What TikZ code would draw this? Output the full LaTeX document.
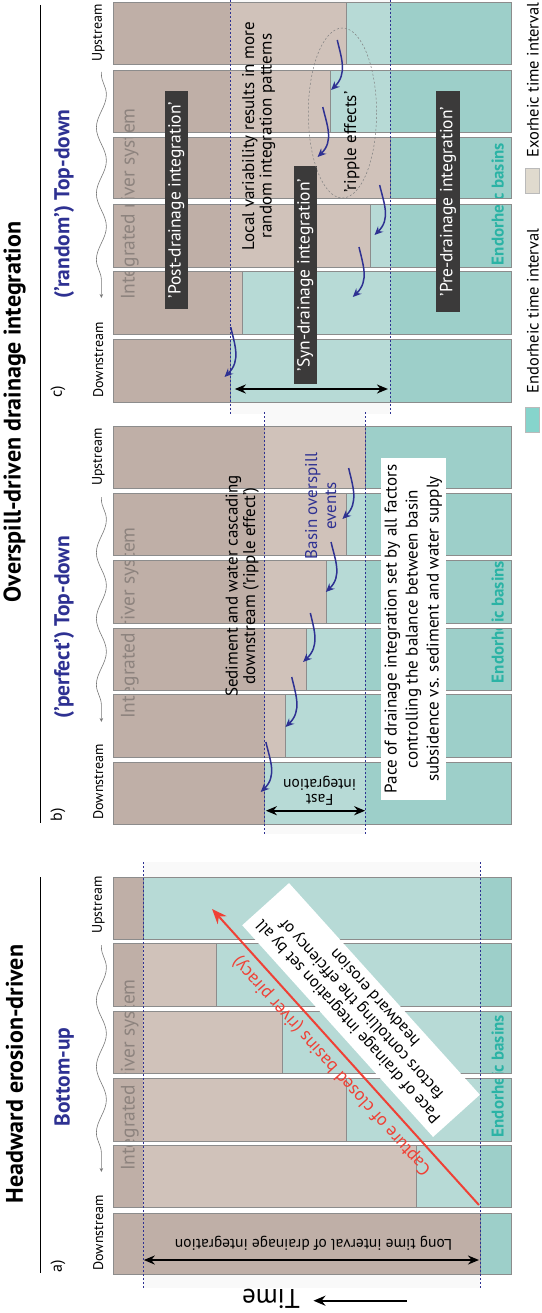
\documentclass[tikz,border=0pt]{standalone}
\usepackage{fontspec}
\setmainfont{PT Sans}
\usetikzlibrary{arrows.meta,decorations.pathmorphing,calc}

\definecolor{dbrown}{HTML}{BFAFA7}
\definecolor{lbrown}{HTML}{D0C2BA}
\definecolor{lteal}{HTML}{B7DAD6}
\definecolor{dteal}{HTML}{9DCFC9}
\definecolor{edgegray}{HTML}{8C8C8C}
\definecolor{navy}{HTML}{2E3192}
\definecolor{tealtxt}{HTML}{2BB3A5}
\definecolor{redarrow}{HTML}{EF4136}
\definecolor{boxdark}{HTML}{3B3A3A}
\definecolor{legexo}{HTML}{E0DACE}
\definecolor{legendo}{HTML}{86D4CC}
\definecolor{rivertxt}{HTML}{8D837E}

\newcommand{\fsz}[2]{\fontsize{#1}{#2}\selectfont}

% one time strip: y0, y1, end of integrated part, end of exorheic part, end of endorheic interval
\newcommand{\drawstrip}[5]{%
  \fill[dbrown] (110,#1) rectangle (#3,#2);
  \fill[lbrown] (#3,#1) rectangle (#4,#2);
  \fill[lteal]  (#4,#1) rectangle (#5,#2);
  \fill[dteal]  (#5,#1) rectangle (494,#2);
  \draw[edgegray, line width=0.6] (#4,#1) -- (#4,#2);
}

\tikzset{
  title/.style={rotate=90, font=\fsz{24}{26}\bfseries},
  subtitle/.style={rotate=90, font=\fsz{21.5}{24}\bfseries, text=navy},
  panellabel/.style={rotate=90, font=\fsz{16}{18}},
  streamlabel/.style={rotate=90, font=\fsz{14}{16}},
  rivertext/.style={rotate=90, font=\fsz{19.5}{22}, text=rivertxt},
  basintext/.style={rotate=90, font=\fsz{17}{19}\bfseries, text=tealtxt},
  legendtext/.style={rotate=90, font=\fsz{16.5}{18}},
  body/.style={rotate=90, font=\fsz{17}{17.5}, align=center, inner sep=1pt},
  darkbox/.style={rotate=90, font=\fsz{17.5}{19}, text=white, fill=boxdark, inner sep=0pt, minimum height=23.3},
  intervalline/.style={navy, line width=0.7, dash pattern=on 2.2 off 1.8},
  overspill/.style={navy, line width=1.5, -{Stealth[length=8.5, width=7.5]}},
  spanarrow/.style={line width=2, {Stealth[length=11, width=9]}-{Stealth[length=11, width=9]}},
  flowline/.style={edgegray!85!black, line width=0.6, -{Stealth[length=4, width=3.5]},
    decorate, decoration={snake, segment length=66, amplitude=5, pre length=2, post length=6}},
  stripframe/.style={edgegray, line width=1},
}

\begin{document}
\begin{tikzpicture}[x=1.0345pt, y=-1pt]
\useasboundingbox (0pt,0pt) rectangle (541pt,-1313pt);

% faint bands marking the integration intervals
\fill[black!2.5] (222.7,0) rectangle (377,414);
\fill[black!2.5] (255.7,412) rectangle (353,834);
\fill[black!2.5] (138.3,862) rectangle (464,1288);

% ---------- panel c: random top-down ----------
\drawstrip{3}{65}{222.7}{335}{377}
\drawstrip{71}{133}{222.7}{319}{377}
\drawstrip{138}{199}{222.7}{377}{377}
\drawstrip{205}{268}{222.7}{357.7}{377}
\drawstrip{272}{334}{234}{234}{377}
\fill[lbrown] (222.7,272) rectangle (234,334);
\drawstrip{339}{402}{222.7}{222.7}{377}

% ---------- panel b: perfect top-down ----------
\drawstrip{426}{488}{255.7}{353}{353}
\drawstrip{493}{555}{255.7}{335}{353}
\drawstrip{560}{623}{255.7}{315}{353}
\drawstrip{628}{690}{255.7}{295.7}{353}
\drawstrip{694}{757}{255.7}{275.7}{353}
\drawstrip{762}{824}{255.7}{255.7}{353}

% ---------- panel a: bottom-up ----------
\drawstrip{877}{939}{138.3}{138.3}{464}
\drawstrip{943}{1006}{138.3}{209}{464}
\drawstrip{1011}{1073}{138.3}{272.7}{464}
\drawstrip{1078}{1141}{138.3}{335}{464}
\drawstrip{1145}{1207}{138.3}{402.3}{464}
\drawstrip{1213}{1274}{464}{464}{464}

% labels lying across the strips
\node[rivertext] (riverc) at (125.5,204) {Integrated river system};
\node[rivertext] (riverb) at (125.5,623) {Integrated river system};
\node[rivertext] (rivera) at (125.5,1075) {Integrated river system};
\node[basintext] (basinc) at (481,204) {Endorheic basins};
\node[basintext] (basinb) at (481,622) {Endorheic basins};
\node[basintext] (basina) at (481,1076) {Endorheic basins};

% white gaps between the strips
\foreach \ga/\gb in {65/71,133/138,199/205,268/272,334/339,
                     488/493,555/560,623/628,690/694,757/762,
                     939/943,1006/1011,1073/1078,1141/1145,1207/1213}
  \fill[white] (106,\ga+0.4) rectangle (498,\gb-0.4);

% strip frames
\foreach \ya/\yb in {3/65,71/133,138/199,205/268,272/334,339/402,
                     426/488,493/555,560/623,628/690,694/757,762/824,
                     877/939,943/1006,1011/1073,1078/1141,1145/1207,1213/1274}
  \draw[stripframe] (110,\ya) rectangle (494,\yb);

% interval boundaries
\draw[intervalline] (222.7,0) -- (222.7,414);
\draw[intervalline] (377,0) -- (377,414);
\draw[intervalline] (255.7,412) -- (255.7,834);
\draw[intervalline] (353,412) -- (353,834);
\draw[intervalline] (138.3,862) -- (138.3,1288);
\draw[intervalline] (464,862) -- (464,1288);

% titles
\node[title] (ttlover) at (14,412) {Overspill-driven drainage integration};
\node[title] (ttlhead) at (14,1074) {Headward erosion-driven};
\draw[line width=1.2] (39,5) -- (39,823);
\draw[line width=1.2] (39,877) -- (39,1273);

\node[subtitle] (subc) at (62,204) {(’random’) Top-down};
\node[subtitle] (subb) at (62,627) {(’perfect’) Top-down};
\node[subtitle] (suba) at (62,1077) {Bottom-up};

\node[panellabel] (labc) at (56,392) {c)};
\node[panellabel] (labb) at (56,815) {b)};
\node[panellabel] (laba) at (56,1266) {a)};

% upstream / downstream with flow direction
\node[streamlabel] (upc) at (95,33) {Upstream};
\node[streamlabel] (downc) at (95,360) {Downstream};
\node[streamlabel] (upb) at (95,457) {Upstream};
\node[streamlabel] (downb) at (95,782) {Downstream};
\node[streamlabel] (upa) at (95,905) {Upstream};
\node[streamlabel] (downa) at (95,1233) {Downstream};
\coordinate (fc1) at (98,72);  \coordinate (fc2) at (98,298);
\coordinate (fb1) at (98,497); \coordinate (fb2) at (98,722);
\coordinate (fa1) at (98,945); \coordinate (fa2) at (98,1172);
\draw[flowline] (fc1) -- (fc2);
\draw[flowline] (fb1) -- (fb2);
\draw[flowline] (fa1) -- (fa2);

% legend
\fill[legexo, draw=edgegray!60, line width=0.3] (508,168) rectangle (521,193);
\node[legendtext] (legexo) at (515,80) {Exorheic time interval};
\fill[legendo, draw=edgegray!60, line width=0.3] (508,407) rectangle (521,432);
\node[legendtext] (legendo) at (515,311) {Endorheic time interval};

% ---------- panel c annotations ----------
\node[darkbox, minimum width=218] (postc) at (170.5,200) {’Post-drainage integration’};
\node[darkbox, minimum width=218] (sync) at (295,275) {’Syn-drainage integration’};
\node[darkbox, minimum width=221] (prec) at (433,201.5) {’Pre-drainage integration’};
\node[body] (localvar) at (250,136) {Local variability results in more\\random integration patterns};
\draw[gray, line width=0.5, dash pattern=on 2 off 2] (331,113) ellipse [x radius=33, y radius=85];
\node[body] (ripplec) at (340,142) {’ripple effects’};

\coordinate (cs1) at (326,40);  \coordinate (ce1) at (320,90);
\coordinate (cs2) at (312,107); \coordinate (ce2) at (307,157);
\coordinate (cs3) at (367,185); \coordinate (ce3) at (362,235);
\coordinate (cs4) at (347,247); \coordinate (ce4) at (341,297);
\coordinate (cs5) at (223,327); \coordinate (ce5) at (217,377);
\foreach \i in {1,...,5}
  \draw[overspill] (cs\i) .. controls +(4,18) and +(16,-16) .. (ce\i);

\coordinate (synl) at (227,389); \coordinate (synr) at (375,389);
\draw[spanarrow] (synl) -- (synr);

% ---------- panel b annotations ----------
\node[body] (cascade) at (234,586) {Sediment and water cascading\\downstream (’ripple effect’)};
\node[body, text=navy, font=\fsz{17}{19}] (overspilltxt) at (310,506) {Basin overspill\\events};
\node[body, font=\fsz{17}{21}, fill=white, minimum width=342, minimum height=65, inner sep=0pt] (paceb) at (399.5,629)
  {Pace of drainage integration set by all factors\\controlling the balance between basin\\subsidence vs. sediment and water supply};
\node[font=\fsz{15.5}{15.5}, align=center, rotate=180] (fast) at (309,791) {Fast\\integration};

\coordinate (bs1) at (337,468); \coordinate (be1) at (331,519);
\coordinate (bs2) at (320,542); \coordinate (be2) at (315,592);
\coordinate (bs3) at (300,613); \coordinate (be3) at (293,662);
\coordinate (bs4) at (282,677); \coordinate (be4) at (276,727);
\coordinate (bs5) at (257,742); \coordinate (be5) at (252,792);
\foreach \i in {1,...,5}
  \draw[overspill] (bs\i) .. controls +(4,18) and +(16,-16) .. (be\i);

\coordinate (fastl) at (257,810.7); \coordinate (fastr) at (353,810.7);
\draw[spanarrow] (fastl) -- (fastr);

% ---------- panel a annotations ----------
\coordinate (capt0) at (463,1205); \coordinate (capt1) at (205,909);
\draw[redarrow, line width=2, -{Stealth[length=15, width=12]}] (capt0) -- (capt1);
\node[font=\fsz{18}{19}, text=redarrow, rotate=132.04] (capttxt) at (321,1065.5)
  {Capture of closed basins (river piracy)};
\node[font=\fsz{16.5}{18}, fill=white, align=center, rotate=132.04, minimum width=285, minimum height=63, inner sep=1pt]
  (pacea) at (349,1010)
  {Pace of drainage integration set by all\\factors contolling the effciency of\\headward erosion};
\node[font=\fsz{15.5}{15.5}, rotate=180] (longtxt) at (303,1243) {Long time interval of drainage integration};
\coordinate (longl) at (139,1260); \coordinate (longr) at (463,1260);
\draw[spanarrow] (longl) -- (longr);

% time axis
\node[font=\fsz{27}{27}, rotate=180] (timetxt) at (262,1299) {Time};
\coordinate (time0) at (393,1300.7); \coordinate (time1) at (303,1300.7);
\draw[line width=2.2, -{Stealth[length=12, width=10]}] (time0) -- (time1);

\end{tikzpicture}
\end{document}
